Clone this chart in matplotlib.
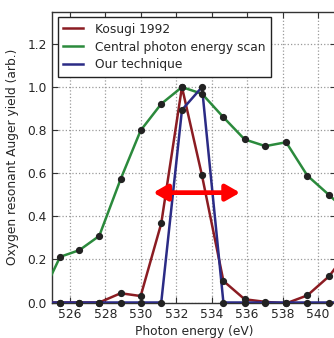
import matplotlib
matplotlib.use("Agg")
import matplotlib.pyplot as plt

# Photon energies (eV) shared by all three scans
energy = [524.27, 525.44, 526.53, 527.65, 528.86, 529.99, 531.15, 532.32,
          533.45, 534.66, 535.86, 537.03, 538.2, 539.4, 540.64, 541.8]

kosugi = [0.0, 0.0, 0.0, 0.0, 0.043, 0.030, 0.367, 1.0,
          0.590, 0.100, 0.015, 0.003, -0.004, 0.033, 0.123, 0.25]
central_scan = [0.01, 0.212, 0.243, 0.309, 0.573, 0.799, 0.922, 1.0,
                0.969, 0.860, 0.757, 0.726, 0.744, 0.589, 0.498, 0.41]
our_technique = [0.0, 0.0, 0.0, 0.0, 0.0, 0.0, 0.0, 0.894,
                 1.0, 0.0, 0.0, 0.0, 0.0, 0.0, 0.0, 0.0]

series_names = ["Kosugi 1992", "Central photon energy scan", "Our technique"]
series_colors = ["#8b1c22", "#2b8a3c", "#2b2b85"]

x_ticks = [526, 528, 530, 532, 534, 536, 538, 540]
y_ticks = [0.0, 0.2, 0.4, 0.6, 0.8, 1.0, 1.2]
x_range = (525, 541)

# Energy window indicated by the double arrow
window_lo, window_hi, window_level = 530.7, 535.6, 0.51

fs = 8.8
plt.rcParams["font.family"] = ["DejaVu Sans"]
plt.rcParams["font.size"] = fs
text_color = "#262626"

fig = plt.figure(figsize=(3.34, 3.38), dpi=100)
ax = fig.add_axes([52.3 / 334, (338 - 302.5) / 338, 283.4 / 334, (302.5 - 11.7) / 338])

for ys, name, col in zip([kosugi, central_scan, our_technique], series_names, series_colors):
    ax.plot(energy, ys, color=col, lw=1.8, label=name, zorder=3)
    # markers drawn unclipped at the zero line, but only inside the energy range
    inside = [(e, v) for e, v in zip(energy, ys) if x_range[0] <= e <= x_range[1]]
    ax.plot([p[0] for p in inside], [p[1] for p in inside], ls="none", marker="o",
            ms=4.2, color="#222222", mec="#222222", zorder=4, clip_on=False)

ax.annotate("", xy=(window_hi, window_level), xytext=(window_lo, window_level),
            arrowprops=dict(arrowstyle="<|-|>,head_length=0.42,head_width=0.24",
                            mutation_scale=20, color="red", lw=3.4,
                            shrinkA=0, shrinkB=0), zorder=5)

ax.set_xlim(*x_range)
ax.set_ylim(0, 1.35)
ax.set_xticks(x_ticks)
ax.set_xticklabels([str(t) for t in x_ticks])
ax.set_yticks(y_ticks)
ax.set_yticklabels([f"{t:.1f}" for t in y_ticks])

ax.grid(True, ls=":", color="#999999", lw=0.9)
ax.set_axisbelow(True)
ax.tick_params(direction="in", top=True, right=True, length=4, width=0.8,
               colors="#333333", labelcolor=text_color, labelsize=fs, pad=4)
for sp in ax.spines.values():
    sp.set_color("#333333")
    sp.set_linewidth(1.0)

ax.set_xlabel("Photon energy (eV)", color=text_color, fontsize=fs, labelpad=3)
ax.set_ylabel("Oxygen resonant Auger yield (arb.)", color=text_color, fontsize=fs, labelpad=6)

leg = ax.legend(loc="upper left", fancybox=False, framealpha=1, edgecolor="#222222",
                handlelength=1.6, handletextpad=1.0, labelspacing=0.4,
                borderaxespad=0.45, borderpad=0.45, fontsize=fs)
leg.get_frame().set_linewidth(1.0)
for t in leg.get_texts():
    t.set_color(text_color)

fig.savefig("out.png", dpi=100)
